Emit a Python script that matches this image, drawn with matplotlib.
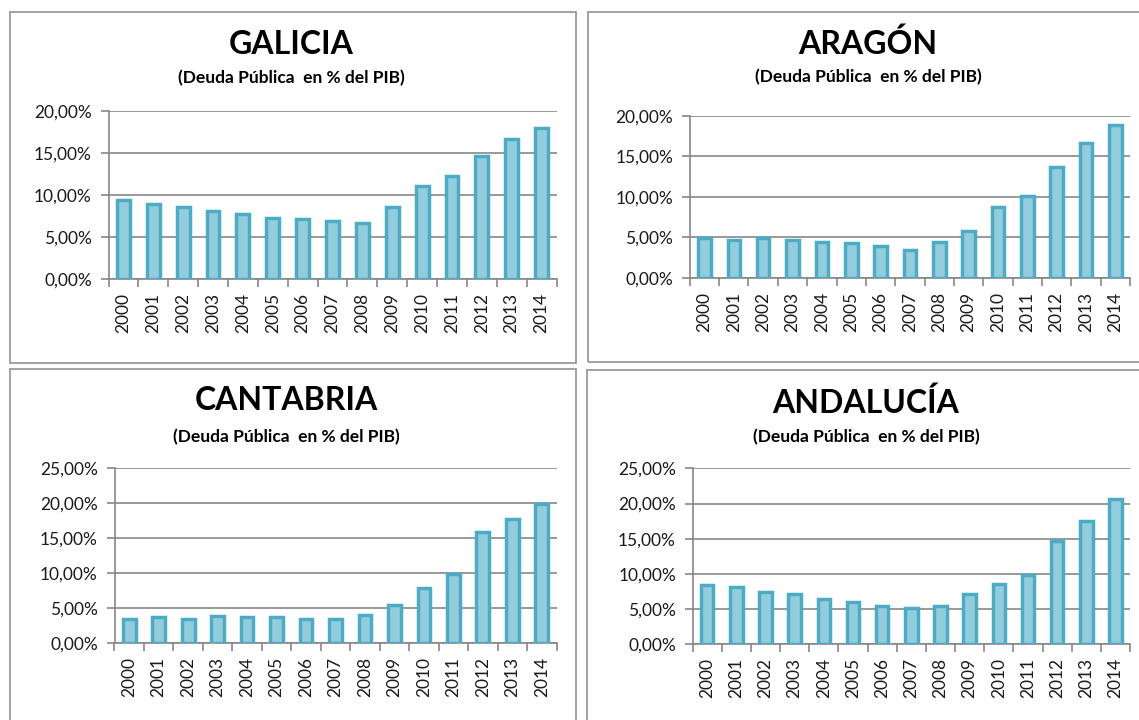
import matplotlib
matplotlib.use("Agg")
import matplotlib.pyplot as plt
from matplotlib.patches import Rectangle
import numpy as np

plt.rcParams['font.family'] = ['Lato', 'DejaVu Sans']

years = [str(y) for y in range(2000, 2015)]
galicia = [9.4, 8.9, 8.6, 8.1, 7.7, 7.3, 7.1, 6.9, 6.7, 8.6, 11.0, 12.2, 14.6, 16.6, 18.0]
aragon = [4.9, 4.7, 4.9, 4.7, 4.4, 4.3, 3.9, 3.5, 4.4, 5.8, 8.8, 10.1, 13.7, 16.6, 18.8]
cantabria = [3.5, 3.7, 3.5, 3.9, 3.7, 3.7, 3.5, 3.5, 4.1, 5.5, 7.9, 9.9, 15.9, 17.8, 19.9]
andalucia = [8.4, 8.2, 7.5, 7.1, 6.4, 6.0, 5.5, 5.1, 5.5, 7.1, 8.6, 9.9, 14.7, 17.5, 20.6]
subtitle = "(Deuda Pública  en % del PIB)"

W, H = 1139, 720
fig = plt.figure(figsize=(W / 100, H / 100), dpi=100)
fig.patch.set_facecolor('white')

def fx(x):
    return x / W

def fy(y):
    return 1 - y / H

panels = [
    ("GALICIA", galicia, 20, (108.5, 556.5, 110.7, 279), 291, 45, 78, (10, 12, 576, 363)),
    ("ARAGÓN", aragon, 20, (689.8, 1130, 115.7, 278), 868, 44, 77, (588, 12, 1145, 362)),
    ("CANTABRIA", cantabria, 25, (114.5, 556.5, 468.3, 643.3), 286, 401, 437, (10, 369, 576, 730)),
    ("ANDALUCÍA", andalucia, 25, (692.6, 1130, 468.3, 644.3), 866, 403, 437, (587, 370, 1145, 730)),
]

grid_c = '#878787'
for name, vals, ymax, (l, r, t, b), tcx, ty, sy, (bx0, by0, bx1, by1) in panels:
    fig.add_artist(Rectangle((fx(bx0), fy(by1)), fx(bx1 - bx0), (by1 - by0) / H,
                             transform=fig.transFigure, fill=False,
                             edgecolor='#9a9a9a', linewidth=1.3))
    ax = fig.add_axes([fx(l), fy(b), fx(r - l), (b - t) / H])
    x = np.arange(len(years))
    ax.bar(x, vals, width=0.43, color='#93cddd', edgecolor='#4bacc6',
           linewidth=2.5, zorder=3)
    ax.set_xlim(-0.5, len(years) - 0.5)
    ax.set_ylim(0, ymax)
    yt = np.arange(0, ymax + 0.1, 5)
    ax.set_yticks(yt)
    ax.set_yticklabels([f"{v:.2f}".replace('.', ',') + '%' for v in yt],
                       fontsize=12.5, color='#1a1a1a')
    ax.yaxis.grid(True, color=grid_c, linewidth=1.2, zorder=0)
    ax.set_xticks(x)
    ax.set_xticklabels(years, rotation=90, fontsize=12.5, color='#1a1a1a')
    ax.set_xticks(np.arange(-0.5, len(years), 1), minor=True)
    ax.tick_params(axis='x', which='major', length=0, pad=10)
    ax.tick_params(axis='x', which='minor', length=6, color=grid_c, width=1.2)
    ax.tick_params(axis='y', length=6, color=grid_c, width=1.2, pad=6)
    for s in ('top', 'right'):
        ax.spines[s].set_visible(False)
    for s in ('left', 'bottom'):
        ax.spines[s].set_color(grid_c)
        ax.spines[s].set_linewidth(1.2)
    ax.set_axisbelow(True)
    fig.text(fx(tcx), fy(ty), name, ha='center', va='center',
             fontsize=23, fontweight='bold', color='black')
    fig.text(fx(tcx), fy(sy), subtitle, ha='center', va='center',
             fontsize=12.5, fontweight='bold', color='black')

fig.savefig('out.png', dpi=100, facecolor='white')
